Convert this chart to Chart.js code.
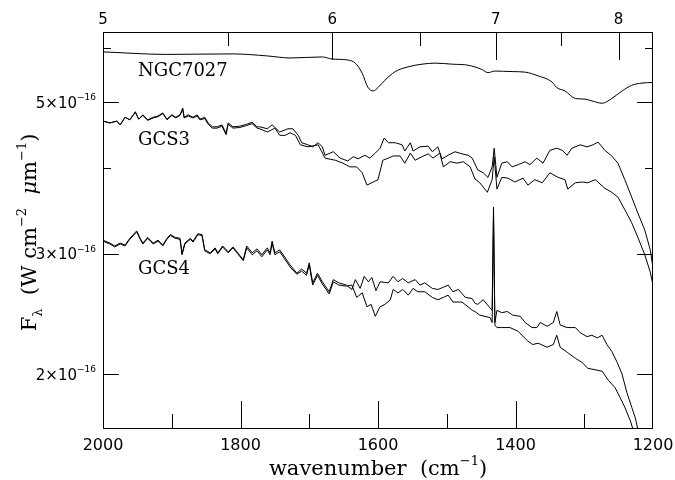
<!DOCTYPE html>
<html><head><meta charset="utf-8">
<script src="https://cdn.jsdelivr.net/npm/chart.js@4/dist/chart.umd.min.js"></script>
<style>html,body{margin:0;padding:0;background:#fff}#wrap{width:675px;height:480px}</style>
</head><body><div id="wrap"><canvas id="c" width="675" height="480"></canvas></div>
<script>
// ---- data (flux in units of 1e-16 W cm^-2 um^-1, x = wavenumber cm^-1) ----
const ngcWn   = [2000,1907,1811,1761,1728,1681,1667,1644,1633,1623,1615,1607,1600,1590,1575,1556,1536,1517,1492,1469,1449,1440,1430,1405,1386,1367,1347,1340,1328,1313,1299,1289,1274,1260,1245,1231,1216,1200];
const ngcFlux = [5.92,5.87,5.88,5.84,5.80,5.82,5.78,5.76,5.70,5.51,5.26,5.19,5.25,5.38,5.54,5.63,5.68,5.70,5.68,5.66,5.58,5.52,5.55,5.54,5.53,5.46,5.35,5.25,5.19,5.06,5.05,5.02,4.98,5.06,5.19,5.29,5.33,5.34];

const gcs3UpperWn   = [2000,1990,1980,1975,1968,1961,1953,1948,1942,1935,1927,1920,1913,1907,1900,1894,1888,1884,1882,1876,1869,1863,1859,1852,1847,1841,1834,1827,1821,1818,1811,1801,1791,1783,1776,1772,1761,1754,1743,1731,1724,1716,1711,1702,1695,1687,1681,1677,1665,1655,1644,1636,1629,1619,1612,1604,1597,1591,1585,1575,1565,1561,1553,1549,1539,1527,1521,1513,1507,1498,1488,1478,1469,1463,1455,1447,1440,1434,1431,1427,1420,1412,1405,1396,1386,1379,1369,1360,1350,1340,1332,1325,1318,1306,1296,1287,1280,1270,1260,1251,1241,1231,1222,1212,1204,1200];
const gcs3UpperFlux = [4.69,4.66,4.69,4.63,4.75,4.71,4.84,4.72,4.79,4.71,4.75,4.77,4.82,4.72,4.79,4.75,4.79,4.90,4.75,4.79,4.75,4.79,4.72,4.75,4.66,4.60,4.60,4.63,4.50,4.66,4.60,4.61,4.64,4.67,4.60,4.60,4.57,4.63,4.52,4.57,4.57,4.47,4.36,4.33,4.30,4.36,4.30,4.18,4.23,4.14,4.10,4.16,4.13,4.18,4.14,4.21,4.28,4.43,4.36,4.36,4.33,4.24,4.36,4.24,4.30,4.31,4.23,4.30,4.13,4.18,4.23,4.20,4.18,4.14,3.98,3.94,3.88,4.02,4.28,3.88,4.07,4.09,4.02,4.05,4.09,4.05,4.14,4.07,4.25,4.28,4.25,4.18,4.28,4.33,4.30,4.33,4.37,4.25,4.17,4.07,3.85,3.63,3.44,3.25,3.04,2.86];

const gcs3LowerWn   = [2000,1990,1980,1975,1968,1961,1953,1948,1942,1935,1927,1920,1913,1907,1900,1894,1888,1884,1882,1876,1869,1863,1859,1852,1847,1841,1834,1827,1821,1818,1811,1801,1791,1783,1776,1772,1761,1750,1743,1735,1728,1720,1713,1702,1687,1677,1662,1651,1641,1631,1623,1616,1607,1600,1593,1585,1578,1568,1561,1553,1546,1536,1527,1520,1510,1505,1495,1485,1476,1466,1459,1452,1441,1434,1431,1427,1420,1411,1401,1389,1382,1372,1361,1350,1338,1328,1324,1313,1303,1295,1284,1270,1260,1251,1241,1231,1222,1212,1204,1200];
const gcs3LowerFlux = [4.69,4.66,4.69,4.63,4.75,4.71,4.83,4.72,4.78,4.70,4.74,4.76,4.81,4.71,4.78,4.74,4.78,4.88,4.74,4.77,4.74,4.77,4.71,4.73,4.64,4.58,4.58,4.61,4.48,4.64,4.58,4.59,4.62,4.65,4.58,4.57,4.52,4.58,4.47,4.47,4.51,4.47,4.33,4.30,4.33,4.14,4.11,4.07,4.02,4.02,3.94,3.78,3.82,3.85,4.11,4.14,4.17,4.17,4.07,4.21,4.11,4.16,4.20,4.14,4.21,4.02,4.09,4.07,4.09,4.02,3.86,3.81,3.69,3.85,4.16,3.73,3.88,3.87,3.82,3.87,3.78,3.85,3.81,3.94,3.88,3.85,3.73,3.81,3.82,3.81,3.85,3.74,3.69,3.63,3.48,3.33,3.17,2.99,2.82,2.70];

const gcs4UpperWn   = [2000,1990,1983,1975,1968,1961,1951,1946,1942,1935,1927,1920,1913,1907,1902,1895,1888,1885,1881,1873,1869,1862,1856,1852,1844,1837,1833,1826,1818,1811,1804,1796,1791,1783,1776,1769,1761,1757,1754,1750,1743,1735,1728,1718,1711,1704,1700,1695,1688,1681,1671,1665,1657,1646,1638,1633,1626,1620,1614,1609,1603,1597,1585,1578,1571,1564,1556,1546,1539,1532,1521,1513,1505,1498,1491,1483,1473,1463,1459,1455,1447,1437,1434,1432,1430,1427,1420,1412,1404,1393,1386,1376,1369,1364,1354,1345,1340,1335,1325,1313,1306,1296,1289,1281,1274,1267,1260,1252,1245,1238,1231,1226,1222,1218];
const gcs4UpperFlux = [3.14,3.11,3.08,3.11,3.09,3.16,3.24,3.16,3.11,3.17,3.11,3.14,3.09,3.16,3.20,3.17,3.16,3.00,3.11,3.16,3.13,3.21,3.20,3.04,3.01,3.06,3.01,3.08,3.02,3.07,3.01,2.94,3.08,3.01,3.05,2.99,3.06,3.01,3.13,3.01,3.04,2.96,2.89,2.81,2.85,2.81,2.91,2.72,2.81,2.73,2.64,2.75,2.72,2.70,2.66,2.75,2.67,2.78,2.73,2.77,2.65,2.73,2.72,2.78,2.73,2.76,2.72,2.75,2.70,2.72,2.67,2.66,2.68,2.70,2.64,2.66,2.59,2.58,2.54,2.53,2.57,2.50,2.48,3.51,2.38,2.48,2.46,2.47,2.44,2.43,2.38,2.34,2.34,2.38,2.35,2.38,2.47,2.36,2.34,2.34,2.30,2.27,2.28,2.26,2.28,2.21,2.16,2.08,2.00,1.88,1.79,1.73,1.66,1.60];

const gcs4LowerWn   = [2000,1990,1983,1975,1968,1961,1951,1946,1942,1935,1927,1920,1913,1907,1902,1895,1888,1885,1881,1873,1869,1862,1856,1852,1844,1837,1833,1826,1818,1811,1804,1796,1791,1783,1776,1769,1761,1757,1754,1750,1743,1735,1728,1718,1711,1704,1700,1695,1688,1681,1671,1665,1657,1646,1638,1631,1623,1616,1610,1604,1597,1590,1582,1578,1571,1564,1556,1549,1542,1532,1521,1513,1505,1498,1491,1478,1469,1463,1459,1452,1437,1434,1432,1430,1427,1420,1408,1396,1383,1375,1367,1354,1345,1340,1335,1324,1313,1303,1295,1284,1274,1265,1255,1248,1241,1233,1229,1226];
const gcs4LowerFlux = [3.13,3.10,3.07,3.10,3.08,3.15,3.23,3.15,3.10,3.16,3.10,3.13,3.08,3.15,3.19,3.16,3.15,2.99,3.10,3.15,3.12,3.20,3.19,3.03,3.00,3.05,3.00,3.07,3.01,3.06,3.00,2.93,3.06,2.99,3.03,2.97,3.04,2.99,3.11,2.99,3.02,2.94,2.87,2.80,2.83,2.79,2.89,2.70,2.79,2.71,2.62,2.73,2.70,2.69,2.70,2.59,2.63,2.51,2.53,2.43,2.51,2.53,2.57,2.66,2.63,2.66,2.61,2.67,2.64,2.64,2.59,2.57,2.59,2.61,2.55,2.55,2.51,2.48,2.47,2.44,2.42,2.38,3.42,2.36,2.34,2.34,2.34,2.31,2.24,2.21,2.22,2.19,2.21,2.28,2.19,2.15,2.11,2.08,2.04,2.03,2.02,1.96,1.91,1.85,1.79,1.71,1.66,1.60];

// ---- axes / ticks / labels ----
const xMin = 1200, xMax = 2000;
const yMin = 1.663, yMax = 6.33;
const bottomTickLabels = [2000, 1800, 1600, 1400, 1200];
const bottomMinorTicks = [1900, 1700, 1500, 1300];
const topTickLabels = [5, 6, 7, 8];          // wavelength (micron)
const topMinorTicks = [5.5, 6.5, 7.5];
const yTickLabels = [2, 3, 5];               // x 10^-16
const yMinorTicks = [4, 6];
const seriesNames = ['NGC7027', 'GCS3', 'GCS4'];
const seriesLabelWn = [1949, 1949, 1949];
const seriesLabelFlux = [5.57, 4.42, 2.86];
const xTitle = [{t:'wavenumber  (cm'},{t:'−1',k:'sup'},{t:')'}];
const yTitle = [{t:'F'},{t:'λ',k:'sub'},{t:'  (W cm'},{t:'−2',k:'sup'},{t:'  '},{t:'μ',it:true},{t:'m'},{t:'−1',k:'sup'},{t:')'}];

function pts(xs, ys){ return xs.map((x,i)=>({x:x, y:ys[i]})); }

function segFont(seg, size, fam){
  const s = seg.k ? Math.round(size*0.6) : size;
  return (seg.it ? 'italic ' : '') + s + 'px ' + fam;
}
function drawRich(ctx, segs, x, y, align, size, fam){
  let w = 0; const ws = [];
  segs.forEach(s=>{ ctx.font = segFont(s,size,fam); const m = ctx.measureText(s.t).width; ws.push(m); w += m; });
  let cx = align==='right' ? x - w : align==='center' ? x - w/2 : x;
  ctx.textAlign = 'left'; ctx.textBaseline = 'alphabetic';
  segs.forEach((s,i)=>{
    ctx.font = segFont(s,size,fam);
    const dy = s.k==='sup' ? -size*0.5 : s.k==='sub' ? size*0.3 : 0;
    ctx.fillText(s.t, cx, y + dy);
    cx += ws[i];
  });
}

const axisPlugin = {
  id:'pgplotAxes',
  afterDraw(chart){
    const ctx = chart.ctx, a = chart.chartArea;
    const xs = chart.scales.x, ys = chart.scales.y;
    ctx.save();
    ctx.fillStyle = '#000';
    const L = Math.round(a.left), R = Math.round(a.right) - 1, T = Math.round(a.top), B = Math.round(a.bottom) - 1;
    // frame
    ctx.fillRect(L, T, R - L + 1, 1);
    ctx.fillRect(L, B, R - L + 1, 1);
    ctx.fillRect(L, T, 1, B - T + 1);
    ctx.fillRect(R, T, 1, B - T + 1);
    const vtick = (v, fromBottom, len) => {
      const p = Math.min(R, Math.round(xs.getPixelForValue(v)));
      if (fromBottom) ctx.fillRect(p, B - len, 1, len); else ctx.fillRect(p, T, 1, len);
    };
    const htick = (v, len) => {
      const p = Math.round(ys.getPixelForValue(v));
      ctx.fillRect(L, p, len, 1);
      ctx.fillRect(R - len + 1, p, len, 1);
    };
    bottomTickLabels.forEach(v => vtick(v, true, 27));
    bottomMinorTicks.forEach(v => vtick(v, true, 14));
    topTickLabels.forEach(l => vtick(1e4 / l, false, 28));
    topMinorTicks.forEach(l => vtick(1e4 / l, false, 14));
    yTickLabels.forEach(v => htick(v, 16));
    yMinorTicks.forEach(v => htick(v, 8));

    // tick labels
    ctx.font = '16px "DejaVu Sans"'; ctx.textAlign = 'center'; ctx.textBaseline = 'middle';
    bottomTickLabels.forEach(v=> ctx.fillText(String(v), xs.getPixelForValue(v), 446));
    ctx.font = '15px "DejaVu Sans"';
    topTickLabels.forEach(l=> ctx.fillText(String(l), xs.getPixelForValue(1e4/l), 20));
    yTickLabels.forEach(v=>{
      const p = ys.getPixelForValue(v);
      drawRich(ctx, [{t:v+'×10'},{t:'−16',k:'sup'}], 96, p+5.5, 'right', 15, '"DejaVu Sans"');
    });

    // series labels
    ctx.font = '18px "DejaVu Serif"'; ctx.textAlign = 'left'; ctx.textBaseline = 'alphabetic';
    seriesNames.forEach((n,i)=> ctx.fillText(n, xs.getPixelForValue(seriesLabelWn[i]), ys.getPixelForValue(seriesLabelFlux[i]) + 6.5));

    // axis titles
    drawRich(ctx, xTitle, (a.left+a.right)/2, 475, 'center', 21, '"DejaVu Serif"');
    ctx.save();
    ctx.translate(36, (a.top+a.bottom)/2 + 2);
    ctx.rotate(-Math.PI/2);
    drawRich(ctx, yTitle, 0, 0, 'center', 21, '"DejaVu Serif"');
    ctx.restore();
    ctx.restore();
  }
};

const hidden = { grid:{display:false, drawTicks:false}, border:{display:false}, ticks:{display:false} };
const ds = (data, extra) => Object.assign({ data, borderColor:'#000', borderWidth:1, pointRadius:0, fill:false, tension:0, xAxisID:'x', yAxisID:'y' }, extra||{});

new Chart(document.getElementById('c'), {
  type:'line',
  data:{ datasets:[
    ds(pts(ngcWn, ngcFlux), {label:seriesNames[0], cubicInterpolationMode:'monotone'}),
    ds(pts(gcs3UpperWn, gcs3UpperFlux), {label:seriesNames[1]+' a'}),
    ds(pts(gcs3LowerWn, gcs3LowerFlux), {label:seriesNames[1]+' b'}),
    ds(pts(gcs4UpperWn, gcs4UpperFlux), {label:seriesNames[2]+' a'}),
    ds(pts(gcs4LowerWn, gcs4LowerFlux), {label:seriesNames[2]+' b'})
  ]},
  options:{
    responsive:false, animation:false, devicePixelRatio:1,
    layout:{padding:0},
    plugins:{legend:{display:false}, tooltip:{enabled:false}},
    scales:{
      x:   Object.assign({type:'linear', position:'bottom', reverse:true, min:xMin, max:xMax, afterFit(s){s.height=51;}}, hidden),
      xTop:Object.assign({type:'linear', position:'top', reverse:true, min:xMin, max:xMax, afterFit(s){s.height=32;}}, hidden),
      y:   Object.assign({type:'logarithmic', position:'left', min:yMin, max:yMax, bounds:'data', afterFit(s){s.width=103;}}, hidden),
      yR:  Object.assign({type:'logarithmic', position:'right', min:yMin, max:yMax, bounds:'data', afterFit(s){s.width=22;}}, hidden)
    }
  },
  plugins:[axisPlugin]
});
</script></body></html>
